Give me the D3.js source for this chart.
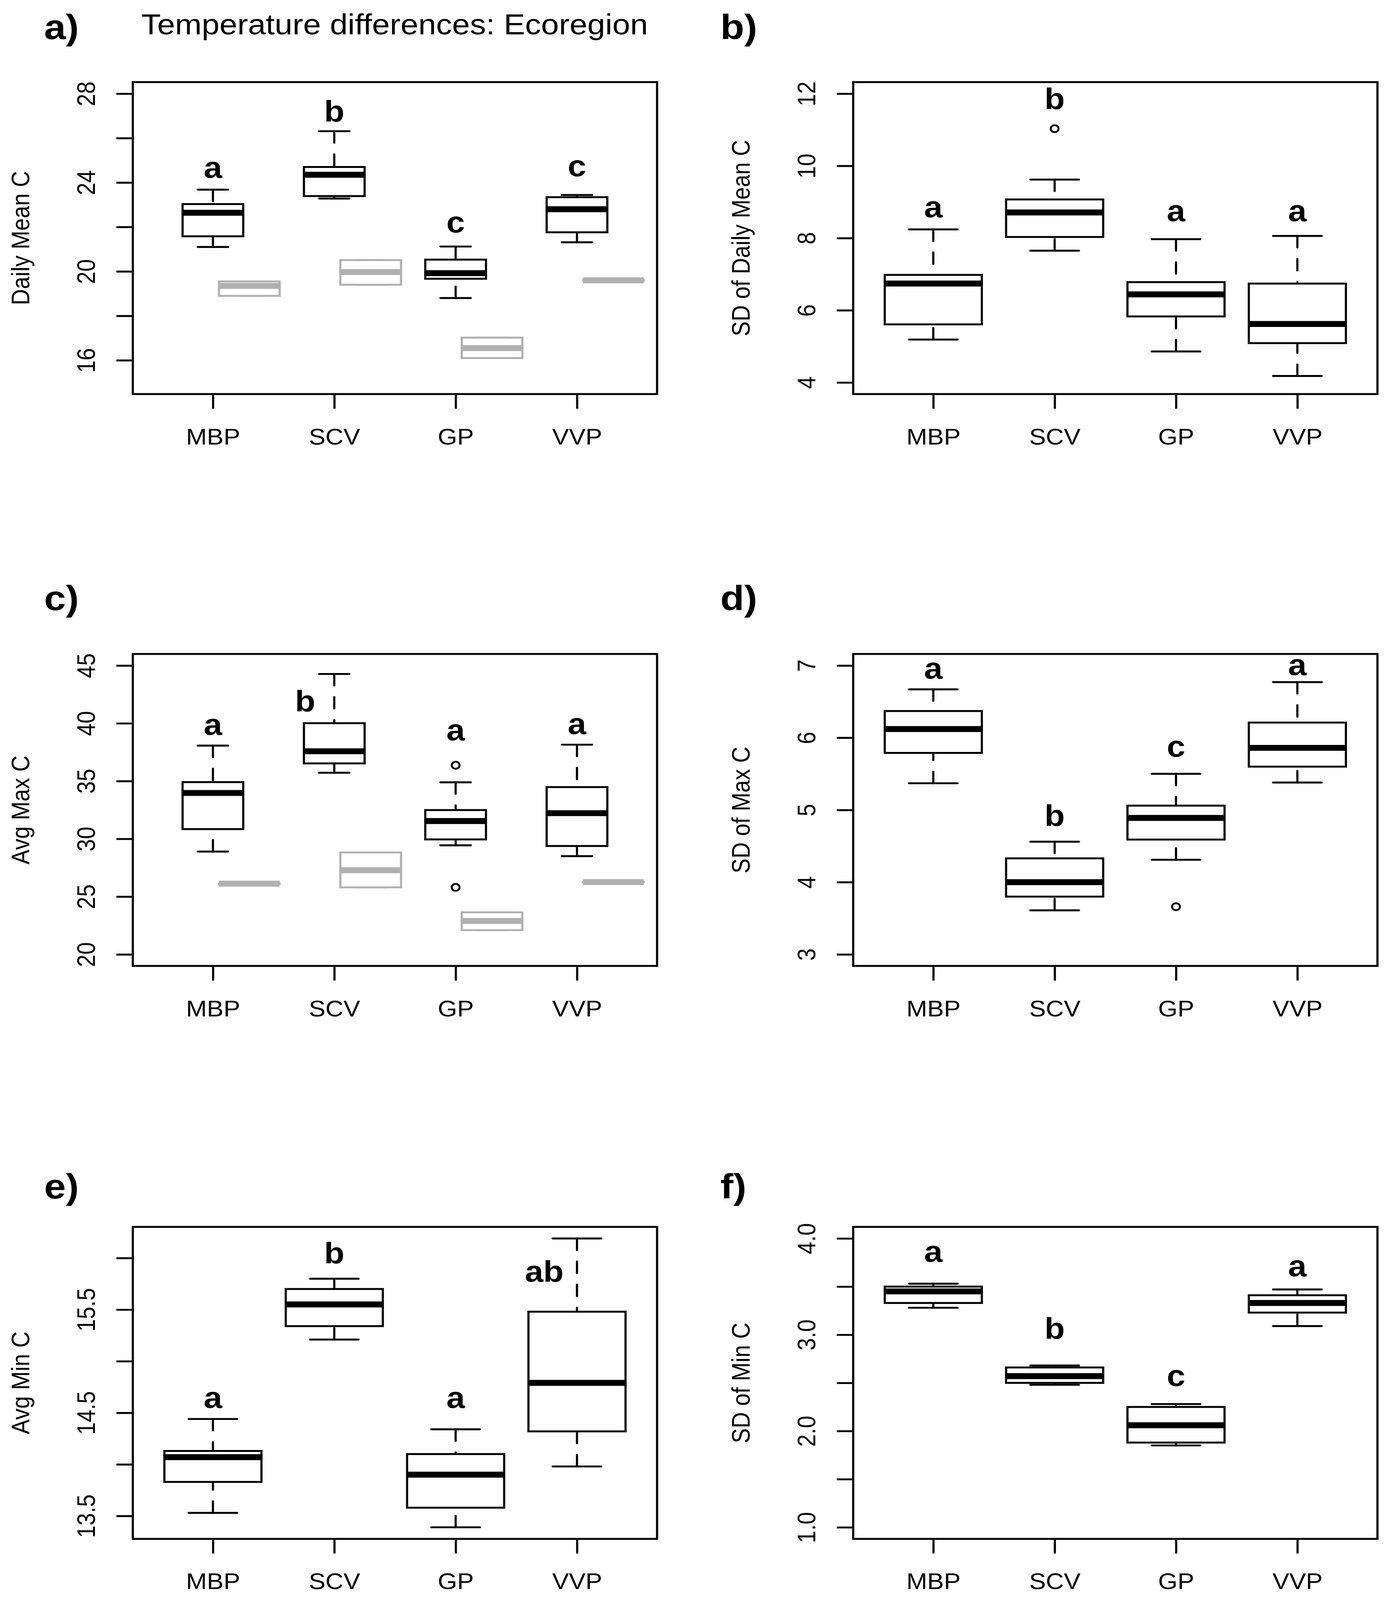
<!DOCTYPE html>
<html>
<head>
<meta charset="utf-8">
<script src="https://cdn.jsdelivr.net/npm/d3@7"></script>
<style>
  html, body { margin: 0; padding: 0; background: #fff; width: 100%; height: 100%; overflow: hidden; }
  svg { display: block; }
  text { font-family: "Liberation Sans", Arial, sans-serif; }
</style>
</head>
<body>
<svg id="chart"></svg>
<script>
// categories shared by every panel
const categories = ["MBP", "SCV", "GP", "VVP"];

// box stats per category: [lower whisker, Q1, median, Q3, upper whisker]
const dailyMean = [
  [21.10, 21.58, 22.64, 23.03, 23.68],
  [23.28, 23.39, 24.35, 24.70, 26.31],
  [18.80, 19.67, 19.92, 20.53, 21.12],
  [21.31, 21.76, 22.80, 23.34, 23.44]
];
const dailyMeanGrey = [
  [18.90, 18.90, 19.35, 19.55, 19.55],
  [19.40, 19.40, 19.97, 20.51, 20.51],
  [16.10, 16.10, 16.55, 17.02, 17.02],
  [19.58, 19.58, 19.60, 19.62, 19.62]
];
const dailyMeanLetters = ["a", "b", "c", "c"];
const dailyMeanLetterY = [24.21, 26.74, 21.75, 24.28];
const dailyMeanLim = [15, 28];
const dailyMeanTicks = [16, 18, 20, 22, 24, 26, 28];
const dailyMeanTickLabels = ["16", "", "20", "", "24", "", "28"];

const sdDailyMean = [
  [5.19, 5.61, 6.74, 6.98, 8.24],
  [7.65, 8.03, 8.71, 9.07, 9.62],
  [4.86, 5.83, 6.44, 6.78, 7.97],
  [4.18, 5.09, 5.62, 6.74, 8.06]
];
const sdDailyMeanOut = [[], [11.03], [], []];
const sdDailyMeanLetters = ["a", "b", "a", "a"];
const sdDailyMeanLetterY = [8.58, 11.57, 8.47, 8.47];
const sdDailyMeanLim = [4, 12];
const sdDailyMeanTicks = [4, 6, 8, 10, 12];
const sdDailyMeanTickLabels = ["4", "6", "8", "10", "12"];

const avgMax = [
  [28.90, 30.84, 33.97, 34.91, 38.07],
  [35.72, 36.53, 37.58, 40.01, 44.27],
  [29.44, 29.95, 31.54, 32.49, 34.89],
  [28.50, 29.38, 32.22, 34.48, 38.15]
];
const avgMaxOut = [[], [], [36.37, 25.80], []];
const avgMaxGrey = [
  [26.10, 26.10, 26.12, 26.14, 26.14],
  [25.80, 25.80, 27.28, 28.82, 28.82],
  [22.10, 22.10, 22.89, 23.64, 23.64],
  [26.24, 26.24, 26.26, 26.28, 26.28]
];
const avgMaxLetters = ["a", "b", "a", "a"];
const avgMaxLetterX = [1, 1.76, 3, 4];
const avgMaxLetterY = [39.01, 41.04, 38.55, 39.07];
const avgMaxLim = [20, 45];
const avgMaxTicks = [20, 25, 30, 35, 40, 45];
const avgMaxTickLabels = ["20", "25", "30", "35", "40", "45"];

const sdMax = [
  [5.37, 5.79, 6.12, 6.37, 6.67],
  [3.61, 3.80, 4.00, 4.33, 4.56],
  [4.31, 4.59, 4.89, 5.06, 5.50],
  [5.38, 5.60, 5.86, 6.21, 6.77]
];
const sdMaxOut = [[], [], [3.66], []];
const sdMaxLetters = ["a", "b", "c", "a"];
const sdMaxLetterY = [6.82, 4.78, 5.74, 6.87];
const sdMaxLim = [3, 7];
const sdMaxTicks = [3, 4, 5, 6, 7];
const sdMaxTickLabels = ["3", "4", "5", "6", "7"];

const avgMin = [
  [13.53, 13.83, 14.07, 14.13, 14.44],
  [15.21, 15.34, 15.55, 15.70, 15.80],
  [13.39, 13.58, 13.90, 14.10, 14.34],
  [13.98, 14.32, 14.79, 15.48, 16.19]
];
const avgMinLetters = ["a", "b", "a", "ab"];
const avgMinLetterX = [1, 2, 3, 3.73];
const avgMinLetterY = [14.55, 15.95, 14.55, 15.77];
const avgMinLim = [13.39, 16.19];
const avgMinTicks = [13.5, 14, 14.5, 15, 15.5, 16];
const avgMinTickLabels = ["13.5", "", "14.5", "", "15.5", ""];

const sdMin = [
  [3.28, 3.33, 3.45, 3.50, 3.53],
  [2.48, 2.50, 2.57, 2.66, 2.68],
  [1.85, 1.88, 2.06, 2.25, 2.28],
  [3.09, 3.23, 3.33, 3.41, 3.47]
];
const sdMinLetters = ["a", "b", "c", "a"];
const sdMinLetterY = [3.76, 2.96, 2.47, 3.61];
const sdMinLim = [1, 4];
const sdMinTicks = [1, 1.5, 2, 2.5, 3, 3.5, 4];
const sdMinTickLabels = ["1.0", "", "2.0", "", "3.0", "", "4.0"];

const panelLabels = ["a)", "b)", "c)", "d)", "e)", "f)"];
const yTitles = ["Daily Mean C", "SD of Daily Mean C", "Avg Max C", "SD of Max C", "Avg Min C", "SD of Min C"];
const mainTitle = "Temperature differences: Ecoregion";

// ---- layout ----
const W = 3553, H = 4580;
const plotLeft = [340, 2184];
const plotTop = [235, 1872, 3512];
const plotW = 1342, plotH = 893;
const labelX = [113, 1844];
const labelY = [112, 1747, 3430];
const LW = 5.5;
const GREY = "#b0b0b0";

const defaultX = [1, 2, 3, 4];
const panels = [
  { stats: dailyMean, grey: dailyMeanGrey, out: null, letters: dailyMeanLetters, letterX: defaultX, letterY: dailyMeanLetterY, lim: dailyMeanLim, ticks: dailyMeanTicks, tickLabels: dailyMeanTickLabels, boxW: 0.5 },
  { stats: sdDailyMean, grey: null, out: sdDailyMeanOut, letters: sdDailyMeanLetters, letterX: defaultX, letterY: sdDailyMeanLetterY, lim: sdDailyMeanLim, ticks: sdDailyMeanTicks, tickLabels: sdDailyMeanTickLabels, boxW: 0.8 },
  { stats: avgMax, grey: avgMaxGrey, out: avgMaxOut, letters: avgMaxLetters, letterX: avgMaxLetterX, letterY: avgMaxLetterY, lim: avgMaxLim, ticks: avgMaxTicks, tickLabels: avgMaxTickLabels, boxW: 0.5 },
  { stats: sdMax, grey: null, out: sdMaxOut, letters: sdMaxLetters, letterX: defaultX, letterY: sdMaxLetterY, lim: sdMaxLim, ticks: sdMaxTicks, tickLabels: sdMaxTickLabels, boxW: 0.8 },
  { stats: avgMin, grey: null, out: null, letters: avgMinLetters, letterX: avgMinLetterX, letterY: avgMinLetterY, lim: avgMinLim, ticks: avgMinTicks, tickLabels: avgMinTickLabels, boxW: 0.8 },
  { stats: sdMin, grey: null, out: null, letters: sdMinLetters, letterX: defaultX, letterY: sdMinLetterY, lim: sdMinLim, ticks: sdMinTicks, tickLabels: sdMinTickLabels, boxW: 0.8 }
];

// the figure is laid out on a 3553x4580 canvas and stretched to fill the viewport
const svg = d3.select("#chart")
  .attr("viewBox", `0 0 ${W} ${H}`)
  .attr("preserveAspectRatio", "none")
  .style("width", "100vw")
  .style("height", "100vh");
svg.append("rect").attr("width", W).attr("height", H).attr("fill", "#fff");

// R-style axis extension of 4% on each side
function extend(lim) {
  const d = (lim[1] - lim[0]) * 0.04;
  return [lim[0] - d, lim[1] + d];
}

function drawBoxes(g, x, y, stats, out, offset, boxW, color) {
  stats.forEach((s, i) => {
    const cx = x(i + 1 + offset);
    const half = (x(boxW) - x(0)) / 2;
    const b = g.append("g").attr("stroke", color).attr("fill", "none");
    // whiskers, drawn from the end toward the hinge like R does
    b.append("line").attr("x1", cx).attr("x2", cx).attr("y1", y(s[0])).attr("y2", y(s[1]))
      .attr("stroke-width", LW).attr("stroke-dasharray", "33,33").attr("stroke-linecap", "round");
    b.append("line").attr("x1", cx).attr("x2", cx).attr("y1", y(s[4])).attr("y2", y(s[3]))
      .attr("stroke-width", LW).attr("stroke-dasharray", "33,33").attr("stroke-linecap", "round");
    // staples
    [s[0], s[4]].forEach(v => {
      b.append("line").attr("x1", cx - half / 2).attr("x2", cx + half / 2)
        .attr("y1", y(v)).attr("y2", y(v)).attr("stroke-width", LW).attr("stroke-linecap", "round");
    });
    // box
    b.append("rect").attr("x", cx - half).attr("width", 2 * half)
      .attr("y", y(s[3])).attr("height", y(s[1]) - y(s[3]))
      .attr("fill", "#fff").attr("stroke-width", LW);
    // median
    b.append("line").attr("x1", cx - half).attr("x2", cx + half)
      .attr("y1", y(s[2])).attr("y2", y(s[2])).attr("stroke-width", 17);
    if (out) {
      out[i].forEach(v => {
        b.append("circle").attr("cx", cx).attr("cy", y(v)).attr("r", 10).attr("stroke-width", 5);
      });
    }
  });
}

panels.forEach((p, k) => {
  const col = k % 2, row = Math.floor(k / 2);
  const g = svg.append("g").attr("transform", `translate(${plotLeft[col]},${plotTop[row]})`);

  const x = d3.scaleLinear().domain([0.34, 4.66]).range([0, plotW]);
  const y = d3.scaleLinear().domain(extend(p.lim)).range([plotH, 0]);

  drawBoxes(g, x, y, p.stats, p.out, 0, p.boxW, "#000");
  if (p.grey) drawBoxes(g, x, y, p.grey, null, 0.3, p.boxW, GREY);

  // significance letters
  g.selectAll(".letter").data(p.letters).join("text")
    .attr("class", "letter")
    .attr("x", (d, i) => x(p.letterX[i]))
    .attr("y", (d, i) => y(p.letterY[i]))
    .attr("text-anchor", "middle")
    .attr("font-weight", "bold")
    .attr("font-size", 85)
    .text(d => d);

  // y axis
  const ya = g.append("g").call(d3.axisLeft(y).tickValues(p.ticks)
    .tickFormat((d, i) => p.tickLabels[i]).tickSize(42).tickSizeOuter(0));
  ya.select(".domain").remove();
  ya.selectAll(".tick line").attr("stroke-width", LW);
  ya.selectAll(".tick text")
    .attr("x", 0).attr("dy", null)
    .attr("text-anchor", "middle")
    .attr("transform", "translate(-97,0) rotate(-90)")
    .attr("font-size", 64)
    .attr("font-family", "Liberation Sans, Arial, sans-serif");

  // x axis
  const xa = g.append("g").attr("transform", `translate(0,${plotH})`)
    .call(d3.axisBottom(x).tickValues([1, 2, 3, 4])
      .tickFormat((d, i) => categories[i]).tickSize(42).tickSizeOuter(0));
  xa.select(".domain").remove();
  xa.selectAll(".tick line").attr("stroke-width", LW);
  xa.selectAll(".tick text")
    .attr("y", 144).attr("dy", null)
    .attr("font-size", 64)
    .attr("font-family", "Liberation Sans, Arial, sans-serif");

  // frame
  g.append("rect").attr("width", plotW).attr("height", plotH)
    .attr("fill", "none").attr("stroke", "#000").attr("stroke-width", LW);

  // y title
  g.append("text")
    .attr("transform", `translate(-265,${plotH / 2}) rotate(-90)`)
    .attr("text-anchor", "middle")
    .attr("font-size", 64)
    .text(yTitles[k]);

  // panel label
  svg.append("text")
    .attr("x", labelX[col]).attr("y", labelY[row])
    .attr("font-weight", "bold")
    .attr("font-size", 100)
    .text(panelLabels[k]);
});

svg.append("text")
  .attr("x", 1010).attr("y", 98)
  .attr("text-anchor", "middle")
  .attr("font-size", 82)
  .text(mainTitle);
</script>
</body>
</html>
